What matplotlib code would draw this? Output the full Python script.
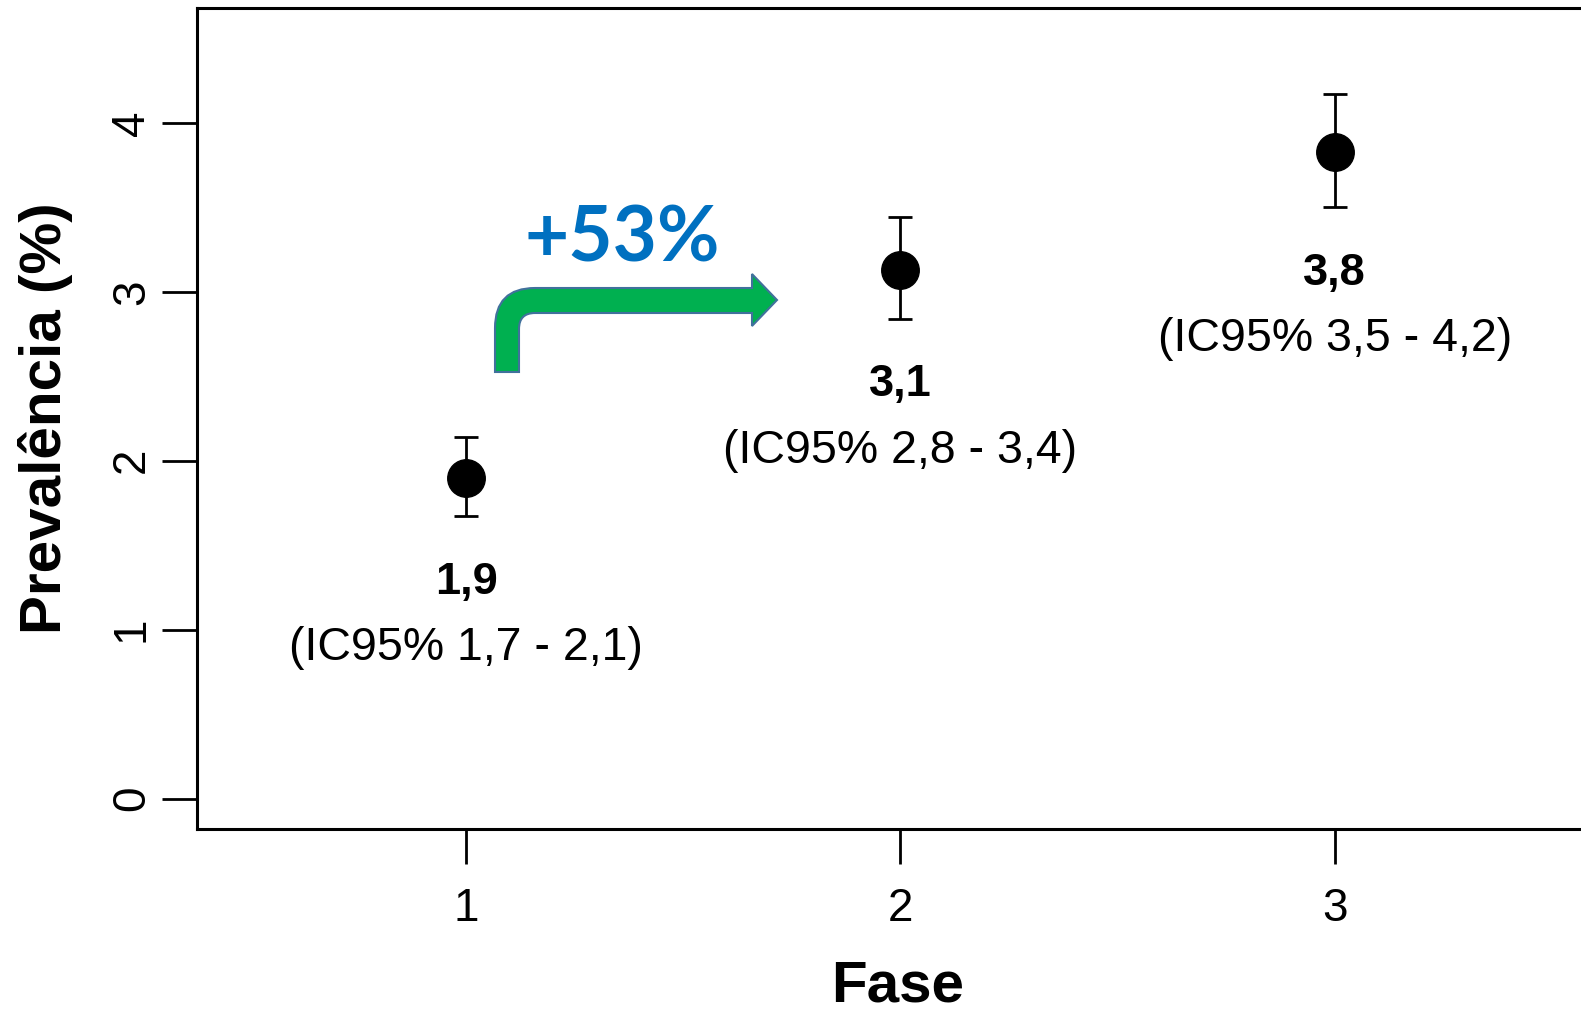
import matplotlib
matplotlib.use('Agg')
import matplotlib.pyplot as plt
import numpy as np
from matplotlib.path import Path
from matplotlib.patches import PathPatch

plt.rcParams['font.family'] = 'Liberation Sans'

# data
fase = [1, 2, 3]
prevalencia = [1.90, 3.13, 3.83]
ic_low = [1.67, 2.84, 3.50]
ic_high = [2.14, 3.44, 4.17]
value_labels = ['1,9', '3,1', '3,8']
ic_labels = ['(IC95% 1,7 - 2,1)', '(IC95% 2,8 - 3,4)', '(IC95% 3,5 - 4,2)']
change_label = '+53%'

W, H = 1581, 1009
fig = plt.figure(figsize=(W / 100, H / 100), dpi=100)
ax = fig.add_axes([197 / W, 1 - 829 / H, 1407 / W, 821 / H])

y = np.array(prevalencia)
lo = np.array(ic_low)
hi = np.array(ic_high)
ax.errorbar(fase, y, yerr=[y - lo, hi - y], fmt='o', color='black',
            ms=27, capsize=8.5, elinewidth=2, capthick=2)

for xi, l, v, ic in zip(fase, lo, value_labels, ic_labels):
    ax.text(xi, l - 0.39, v, ha='center', va='center', fontsize=32.5,
            fontweight='bold')
    ax.text(xi, l - 0.78, ic, ha='center', va='center', fontsize=33.5)

ax.text(1.36, 3.31, change_label, ha='center', va='center', fontsize=55,
        fontweight='bold', color='#0070C0', family=['Lato', 'DejaVu Sans'])

# bent arrow, drawn in figure pixels (y down)
def px(x, yy):
    return (x / W, 1 - yy / H)

verts = [px(495, 372), px(495, 328), px(495, 288), px(535, 288),
         px(752, 288), px(752, 274), px(777, 300), px(752, 326),
         px(752, 313), px(535, 313), px(519, 313), px(519, 329),
         px(519, 372), px(495, 372)]
codes = [Path.MOVETO, Path.LINETO, Path.CURVE3, Path.CURVE3,
         Path.LINETO, Path.LINETO, Path.LINETO, Path.LINETO,
         Path.LINETO, Path.LINETO, Path.CURVE3, Path.CURVE3,
         Path.LINETO, Path.CLOSEPOLY]
arrow = PathPatch(Path(verts, codes), facecolor='#00B050',
                  edgecolor='#41719C', lw=1.5, transform=fig.transFigure)
fig.patches.append(arrow)

ax.set_xlim(0.38, 3.62)
ax.set_ylim(-0.18, 4.68)
ax.set_xticks(fase)
ax.set_yticks([0, 1, 2, 3, 4])
ax.tick_params(axis='both', length=25, width=2, labelsize=33)
ax.tick_params(axis='x', pad=17)
ax.tick_params(axis='y', pad=6)
for t in ax.get_yticklabels():
    t.set_rotation(90)
    t.set_va('center')

for s in ['left', 'top', 'bottom', 'right']:
    ax.spines[s].set_linewidth(2.2)

ax.set_xlabel('Fase', fontsize=42, fontweight='bold', va='center')
ax.xaxis.set_label_coords(0.498, -(987 - 829) / 821)
ax.set_ylabel('Prevalência (%)', fontsize=42, fontweight='bold', va='center')
ax.yaxis.set_label_coords((45 - 197) / 1407, 0.5)

fig.savefig('out.png', dpi=100)
